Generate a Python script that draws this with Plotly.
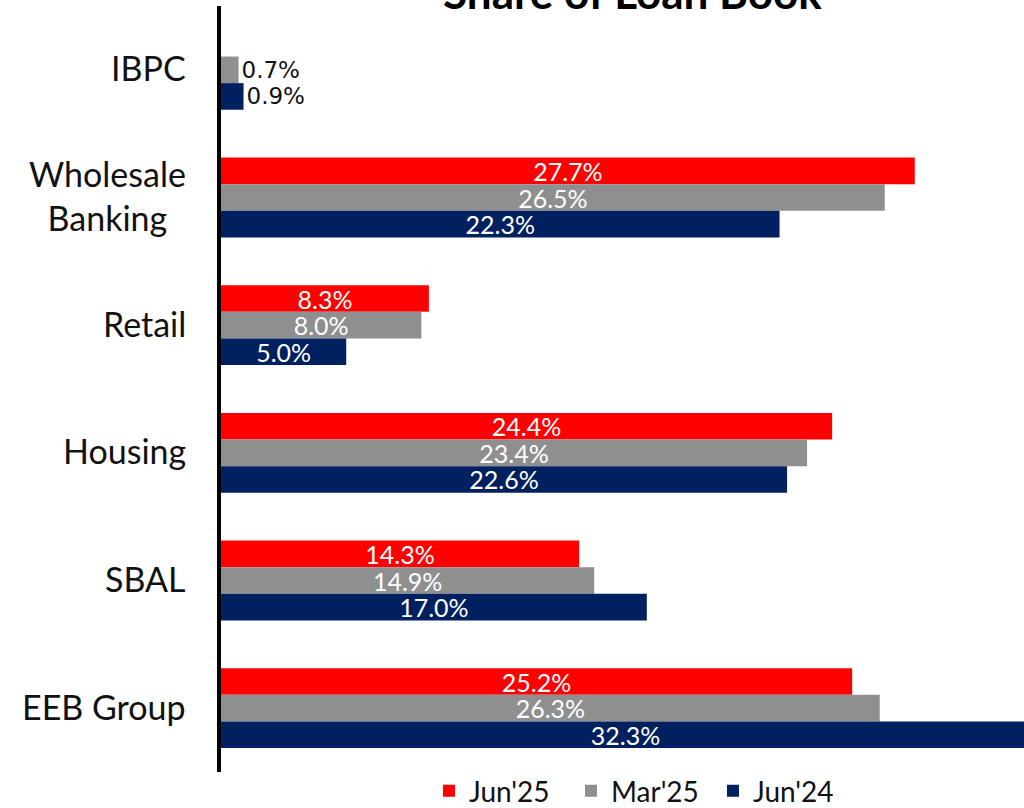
import plotly.graph_objects as go

# Loan book segments, listed top to bottom
segments = ["IBPC", "Wholesale Banking", "Retail", "Housing", "SBAL", "EEB Group"]
segment_labels = ["IBPC", "Wholesale<br>Banking", "Retail", "Housing", "SBAL", "EEB Group"]

# Share of loan book (%) per period
jun25 = [None, 27.7, 8.3, 24.4, 14.3, 25.2]
mar25 = [0.7, 26.5, 8.0, 23.4, 14.9, 26.3]
jun24 = [0.9, 22.3, 5.0, 22.6, 17.0, 32.3]

series = [
    ("Jun'25", jun25, "#FF0000"),
    ("Mar'25", mar25, "#8F8F8F"),
    ("Jun'24", jun24, "#002060"),
]

FONT = "Lato"
SMALL = 2.0  # values below this get their label outside the bar

fig = go.Figure()
for name, vals, color in series:
    positions = ["outside" if (v is not None and v < SMALL) else "inside" for v in vals]
    fig.add_trace(go.Bar(
        name=name,
        y=segments,
        x=vals,
        orientation="h",
        marker=dict(color=color, line=dict(width=0)),
        text=[None if v is None else f"{v:.1f}%" for v in vals],
        textposition=positions,
        insidetextanchor="middle",
        insidetextfont=dict(family=FONT, size=25, color="white"),
        outsidetextfont=dict(family="DejaVu Sans", size=23, color="#111111"),
        constraintext="none",
        hoverinfo="skip",
    ))

# Segment names, centred line by line, to the left of the axis
for seg, lab in zip(segments, segment_labels):
    fig.add_annotation(
        x=0, xref="paper", y=seg, yref="y",
        text=lab, showarrow=False,
        xanchor="right", yanchor="middle", align="center",
        xshift=-33, yshift=2,
        font=dict(family=FONT, size=34, color="#111111"),
    )

# Chart title sitting at the top edge
fig.add_annotation(
    x=0.512, xref="paper", y=1, yref="paper",
    text="<b>Share of Loan Book</b>", showarrow=False,
    xanchor="center", yanchor="bottom", yshift=-14,
    font=dict(family=FONT, size=44, color="#000000"),
)

fig.update_layout(
    width=1024, height=808,
    margin=dict(l=221, r=0, t=5.5, b=36, autoexpand=False),
    paper_bgcolor="white", plot_bgcolor="white",
    barmode="group", bargap=0.375, bargroupgap=0,
    showlegend=True,
    legend=dict(
        orientation="h", x=0.259, xanchor="left",
        y=-0.025, yanchor="middle",
        font=dict(family=FONT, size=28, color="#111111"),
        itemwidth=30, entrywidth=97, traceorder="normal",
    ),
    xaxis=dict(range=[0, 32.06], visible=False, showgrid=False, zeroline=False),
    yaxis=dict(
        categoryorder="array", categoryarray=segments,
        autorange="reversed",
        showticklabels=False, ticks="",
        showline=True, linecolor="black", linewidth=4,
        showgrid=False, zeroline=False,
    ),
)

fig.write_html("out.html")
